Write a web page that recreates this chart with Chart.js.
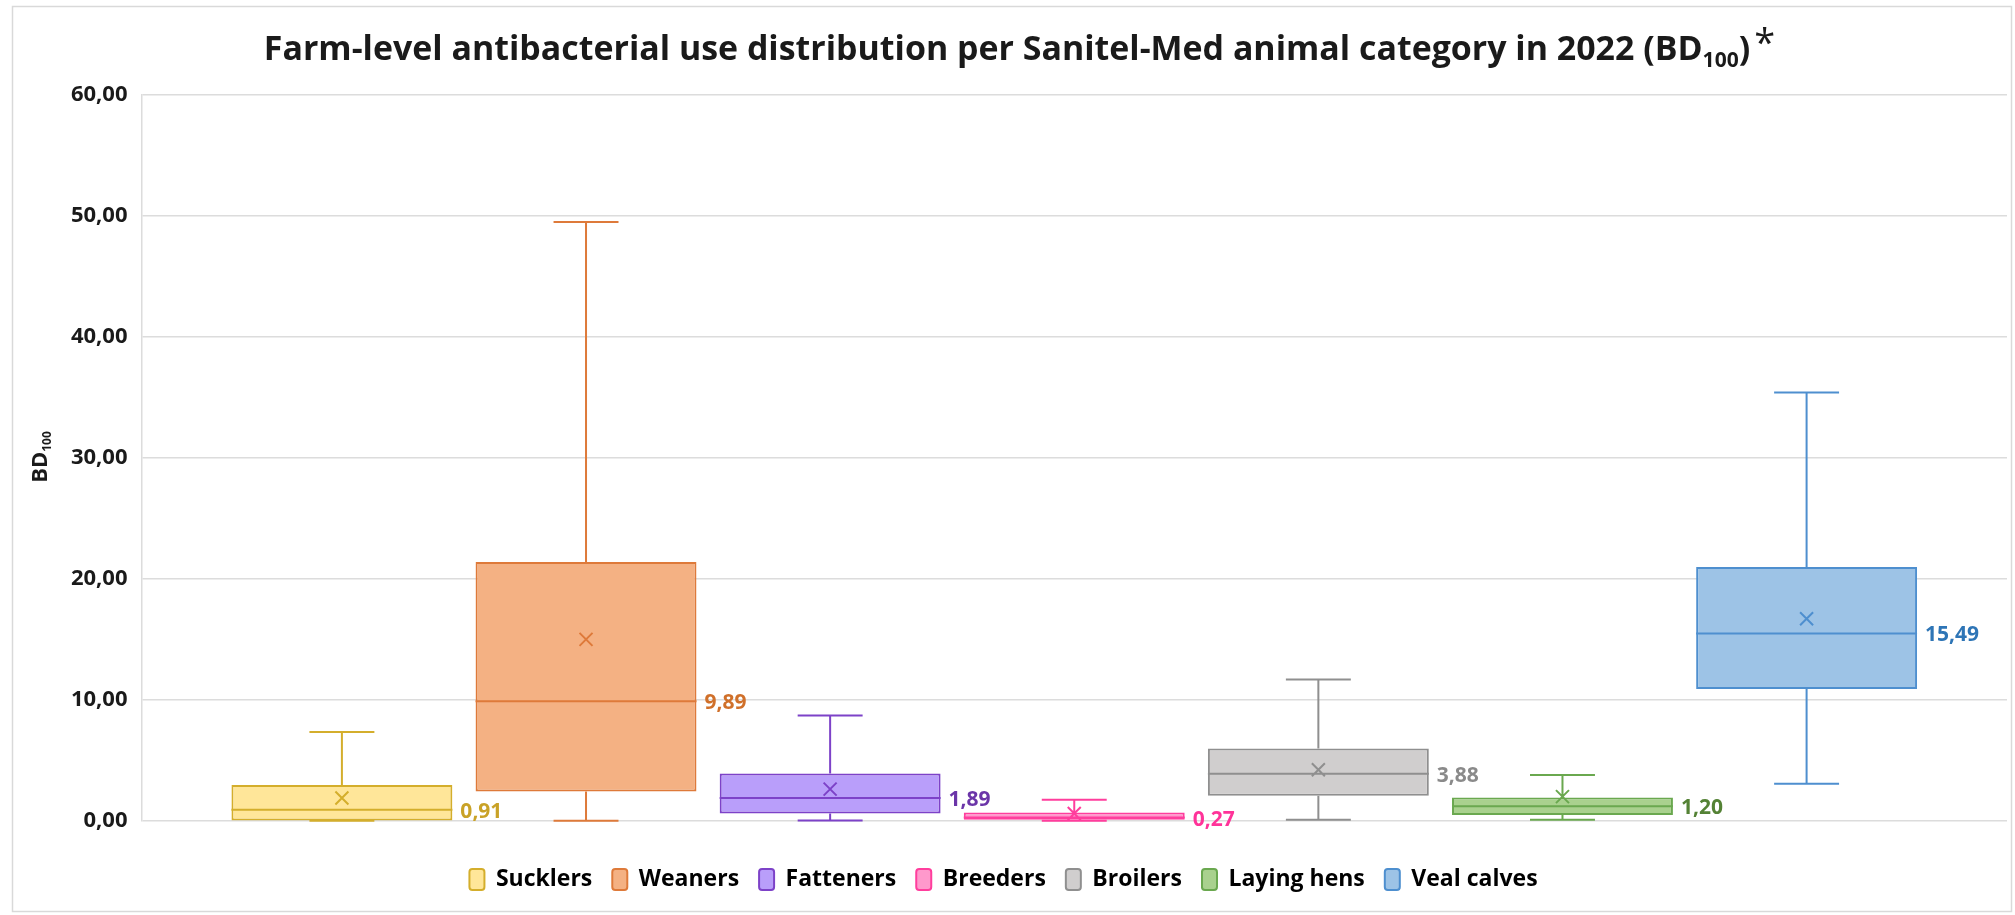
<!DOCTYPE html>
<html>
<head>
<meta charset="utf-8">
<script src="https://cdn.jsdelivr.net/npm/chart.js@4.4.1/dist/chart.umd.min.js"></script>
<style>
html, body { margin: 0; padding: 0; background: #fff; }
</style>
</head>
<body>
<canvas id="boxChart" width="2015" height="915"></canvas>
<script>
// Box plot values per animal category (BD100)
var categories = ['Sucklers', 'Weaners', 'Fatteners', 'Breeders', 'Broilers', 'Laying hens', 'Veal calves'];
var mins    = [0.00, 0.00, 0.02, 0.00, 0.08, 0.08, 3.07];
var q1s     = [0.02, 2.43, 0.60, 0.08, 2.07, 0.47, 10.90];
var medians = [0.91, 9.89, 1.89, 0.27, 3.88, 1.20, 15.49];
var q3s     = [2.96, 21.40, 3.90, 0.69, 5.97, 1.93, 20.99];
var maxs    = [7.35, 49.50, 8.70, 1.74, 11.68, 3.78, 35.40];
var means   = [1.88, 15.00, 2.62, 0.60, 4.22, 2.00, 16.70];
var yTicks  = [0, 10, 20, 30, 40, 50, 60];

var fills   = ['#FFE699', '#F4B183', '#B99EFA', '#FF99CC', '#D0CECE', '#A9D18E', '#9DC3E6'];
var borders = ['#D4AE2C', '#DE7A3A', '#7D42C8', '#FF3E9D', '#8F8F8F', '#6AA84F', '#4E8FCF'];
var labelColors = ['#C9A227', '#D0702A', '#6B35A8', '#FF3399', '#8A8A8A', '#548235', '#2E75B6'];

const FONT = '"Open Sans", "DejaVu Sans", sans-serif';
const fmt = v => v.toFixed(2).replace('.', ',');

// whiskers, median line, mean cross and median label
const boxExtras = {
    id: 'boxExtras',
    afterDatasetsDraw(chart) {
        const ctx = chart.ctx;
        const y = chart.scales.y;
        chart.data.datasets.forEach((ds, i) => {
            const meta = chart.getDatasetMeta(i);
            if (!chart.isDatasetVisible(i)) return;
            const bar = meta.data[0];
            const cx = bar.x, half = bar.width / 2, cap = bar.width * 0.147;
            const yMin = y.getPixelForValue(mins[i]);
            const yQ1 = y.getPixelForValue(q1s[i]);
            const yMed = y.getPixelForValue(medians[i]);
            const yQ3 = y.getPixelForValue(q3s[i]);
            const yMax = y.getPixelForValue(maxs[i]);
            const yMean = y.getPixelForValue(means[i]);
            ctx.save();
            ctx.strokeStyle = borders[i];
            ctx.lineWidth = 2;
            ctx.beginPath();
            ctx.moveTo(cx, yQ3); ctx.lineTo(cx, yMax);
            ctx.moveTo(cx - cap, yMax); ctx.lineTo(cx + cap, yMax);
            ctx.moveTo(cx, yQ1); ctx.lineTo(cx, yMin);
            ctx.moveTo(cx - cap, yMin); ctx.lineTo(cx + cap, yMin);
            ctx.moveTo(cx - half, yMed); ctx.lineTo(cx + half, yMed);
            const m = 6.5;
            ctx.moveTo(cx - m, yMean - m); ctx.lineTo(cx + m, yMean + m);
            ctx.moveTo(cx - m, yMean + m); ctx.lineTo(cx + m, yMean - m);
            ctx.stroke();
            ctx.fillStyle = labelColors[i];
            ctx.font = 'bold 21px ' + FONT;
            ctx.textAlign = 'left';
            ctx.textBaseline = 'middle';
            ctx.fillText(fmt(medians[i]), cx + half + 8, yMed + 2);
            ctx.restore();
        });
    }
};

// title with subscript, y axis title, chart frame
const titleText = 'Farm-level antibacterial use distribution per Sanitel-Med animal category in 2022 (BD';
const decorations = {
    id: 'decorations',
    beforeDraw(chart) {
        const ctx = chart.ctx;
        ctx.save();
        ctx.fillStyle = '#fff';
        ctx.fillRect(0, 0, chart.width, chart.height);
        ctx.strokeStyle = '#d9d9d9';
        ctx.lineWidth = 1.5;
        ctx.strokeRect(12.5, 6.5, chart.width - 16, chart.height - 10);
        ctx.restore();
    },
    afterDraw(chart) {
        const ctx = chart.ctx;
        ctx.save();
        // title
        let size = 30;
        const measure = s => {
            ctx.font = 'bold ' + s + 'px ' + FONT;
            const a = ctx.measureText(titleText).width;
            const c = ctx.measureText(')').width;
            ctx.font = 'bold ' + (s * 0.62) + 'px ' + FONT;
            const b = ctx.measureText('100').width;
            return [a, b, c];
        };
        let w = measure(size);
        size = size * 1487 / (w[0] + w[1] + w[2]);
        w = measure(size);
        const total = w[0] + w[1] + w[2];
        let x = 1007 - total / 2;
        const base = 60;
        ctx.fillStyle = '#1a1a1a';
        ctx.textAlign = 'left';
        ctx.textBaseline = 'alphabetic';
        ctx.font = 'bold ' + size + 'px ' + FONT;
        ctx.fillText(titleText, x, base);
        x += w[0];
        ctx.font = 'bold ' + (size * 0.62) + 'px ' + FONT;
        ctx.fillText('100', x, base + 7);
        x += w[1];
        ctx.font = 'bold ' + size + 'px ' + FONT;
        ctx.fillText(')', x, base);
        x += w[2];
        ctx.font = '38px ' + FONT;
        ctx.fillText('*', x + 4, base - 4);

        // y axis title, rotated
        ctx.translate(47, 457);
        ctx.rotate(-Math.PI / 2);
        ctx.font = 'bold 22px ' + FONT;
        const bw = ctx.measureText('BD').width;
        ctx.font = 'bold 12px ' + FONT;
        const sw = ctx.measureText('100').width;
        const start = -(bw + sw) / 2;
        ctx.font = 'bold 22px ' + FONT;
        ctx.fillText('BD', start, 0);
        ctx.font = 'bold 12px ' + FONT;
        ctx.fillText('100', start + bw, 4);
        ctx.restore();
    }
};

const datasets = categories.map((c, i) => ({
    label: c,
    data: [[q1s[i], q3s[i]]],
    backgroundColor: fills[i],
    borderColor: borders[i],
    borderWidth: 2,
    borderSkipped: false,
    categoryPercentage: 0.916,
    barPercentage: 0.905
}));

const ctx = document.getElementById('boxChart');
window.boxChart = new Chart(ctx, {
    type: 'bar',
    data: { labels: [''], datasets: datasets },
    options: {
        responsive: false,
        animation: false,
        devicePixelRatio: 1,
        layout: { padding: { top: 95, right: 8, bottom: 14, left: 0 } },
        scales: {
            x: { display: false },
            y: {
                min: 0,
                max: 60,
                afterBuildTicks: scale => { scale.ticks = yTicks.map(v => ({ value: v })); },
                afterFit: scale => { scale.width = 141.5; },
                ticks: {
                    callback: v => fmt(v),
                    font: { family: FONT, size: 22, weight: 'bold' },
                    color: '#1a1a1a',
                    padding: 14
                },
                grid: { color: '#dcdcdc', lineWidth: 1.5, drawTicks: false },
                border: { color: '#dcdcdc', width: 1.5 }
            }
        },
        plugins: {
            legend: {
                position: 'bottom',
                title: { display: true, text: ' ', font: { size: 1 }, padding: { top: 0, bottom: 26 } },
                labels: {
                    font: { family: FONT, size: 23, weight: 'bold' },
                    color: '#000',
                    boxWidth: 15,
                    boxHeight: 21,
                    useBorderRadius: true,
                    borderRadius: 3,
                    padding: 20
                }
            },
            tooltip: { enabled: false }
        }
    },
    plugins: [decorations, boxExtras]
});
</script>
</body>
</html>
